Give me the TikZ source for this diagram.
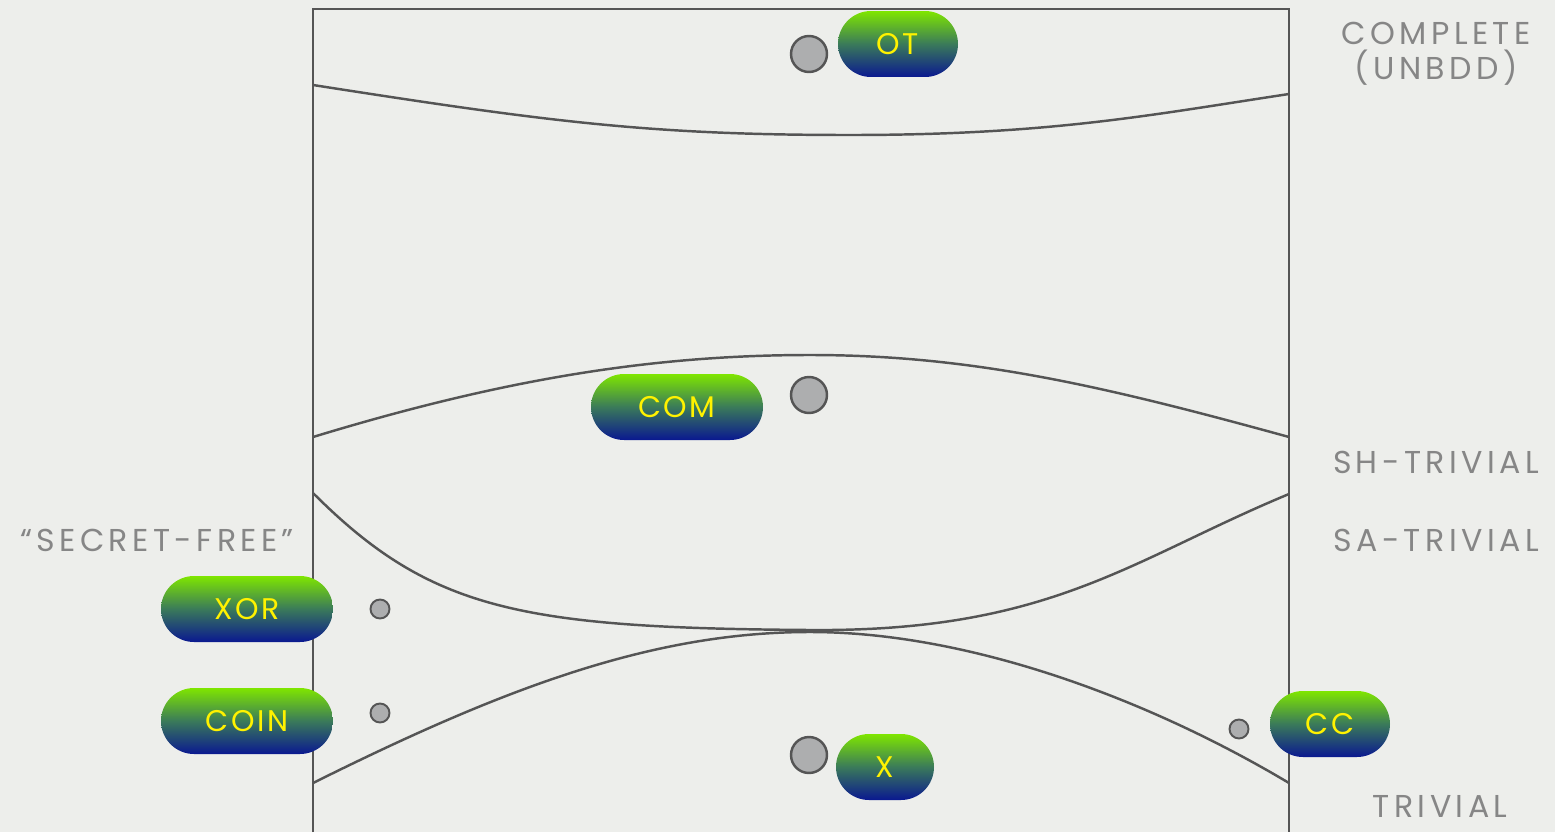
\documentclass[tikz,border=0pt]{standalone}
\usepackage{fontspec}
\setmainfont[LetterSpace=8]{Poppins}
\newfontfamily\tagfont[LetterSpace=14]{Poppins}
\definecolor{paper}{HTML}{EDEEEB}
\definecolor{ink}{HTML}{555555}
\definecolor{labelgray}{HTML}{868686}
\definecolor{pilltop}{HTML}{7FE600}
\definecolor{pillmid}{HTML}{3A7A5A}
\definecolor{pillbot}{HTML}{0A1890}
\definecolor{dotgray}{HTML}{ADAEAF}
\begin{document}
\begin{tikzpicture}[x=0.02cm,y=-0.02cm,
	region/.style={draw=ink,line width=1.4pt},
	pill/.style={rounded corners=0.66cm,minimum height=1.32cm,inner sep=0pt,top color=pilltop,bottom color=pillbot,middle color=pillmid,text=yellow,font=\fontsize{17}{17}\selectfont},
	bigdot/.style={circle,draw=ink,line width=1.4pt,fill=dotgray,minimum size=0.72cm,inner sep=0pt},
	smalldot/.style={circle,draw=ink,line width=1.1pt,fill=dotgray,minimum size=0.38cm,inner sep=0pt},
	tag/.style={text=labelgray,font=\tagfont\fontsize{18}{20}\selectfont,align=center}]
	%background
	\fill[paper] (0,0) rectangle (1555,832);
	\useasboundingbox (0,0) rectangle (1555,832);

	%box
	\draw[region] (313,832) -- (313,9) -- (1289,9) -- (1289,832);

	%boundaries
	\draw[region] (313,85) .. controls (550,122) and (650,135) .. (850,135) .. controls (1050,135) and (1150,115) .. (1289,94); %complete
	\draw[region] (313,437) .. controls (500,380) and (650,355) .. (810,355) .. controls (970,355) and (1100,385) .. (1289,437); %sh-trivial
	\draw[region] (313,493) .. controls (430,610) and (520,628) .. (810,630) .. controls (1050,632) and (1130,560) .. (1289,494); %sa-trivial
	\draw[region] (313,783) .. controls (500,690) and (650,632) .. (810,632) .. controls (970,632) and (1150,700) .. (1289,783); %trivial

	%points
	\node[bigdot] (otdot) at (809,54) {};
	\node[bigdot] (comdot) at (809,395) {};
	\node[bigdot] (xdot) at (809,755) {};
	\node[smalldot] (xordot) at (380,609) {};
	\node[smalldot] (coindot) at (380,713) {};
	\node[smalldot] (ccdot) at (1239,729) {};

	%functionalities
	\node[pill,minimum width=2.4cm] (ot) at (898,44) {OT};
	\node[pill,minimum width=3.44cm] (com) at (677,407) {COM};
	\node[pill,minimum width=3.44cm] (xor) at (247,609) {XOR};
	\node[pill,minimum width=3.44cm] (coin) at (247,721) {COIN};
	\node[pill,minimum width=2.4cm] (cc) at (1330,724) {CC};
	\node[pill,minimum width=1.96cm] (x) at (885,767) {X};

	%labels
	\node[tag] (complete) at (1436,54) {COMPLETE\\(UNBDD)};
	\node[tag] (shtriv) at (1436,462) {SH-TRIVIAL};
	\node[tag] (satriv) at (1436,540) {SA-TRIVIAL};
	\node[tag] (triv) at (1440,806) {TRIVIAL};
	\node[tag] (secfree) at (157,540) {“SECRET-FREE”};
\end{tikzpicture}
\end{document}
